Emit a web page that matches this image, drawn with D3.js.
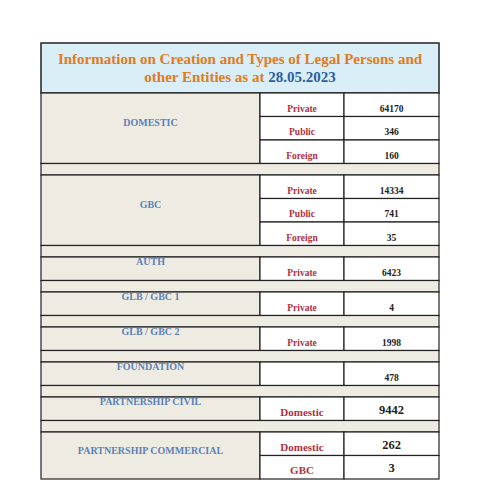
<!DOCTYPE html><html><head><meta charset="utf-8"><script src="https://cdn.jsdelivr.net/npm/d3@7"></script>
<style>body{margin:0;background:#fff}</style></head><body><svg id="c" width="480" height="480"></svg>
<script>
const groups = ["DOMESTIC","GBC","AUTH","GLB / GBC 1","GLB / GBC 2","FOUNDATION","PARTNERSHIP CIVIL","PARTNERSHIP COMMERCIAL"];
const subTypes = [["Private","Public","Foreign"],["Private","Public","Foreign"],["Private"],["Private"],["Private"],[""],["Domestic"],["Domestic","GBC"]];
const counts = [[64170,346,160],[14334,741,35],[6423],[4],[1998],[478],[9442],[262,3]];
const svg = d3.select("#c");
const font = "'Liberation Serif','Times New Roman',serif";
const c1 = 260, c2 = 344;
const subH = 23.5, gap = 11.5, tableTop = 93;
svg.append("rect").attr("x",41).attr("y",43).attr("width",398).attr("height",50).attr("fill","#daeef7").attr("stroke","#222").attr("stroke-width",1.5);
const t = svg.append("text").attr("font-family",font).attr("font-weight","bold").attr("font-size",15).attr("text-anchor","middle").attr("fill","#e07b20");
t.append("tspan").attr("x",240).attr("y",64).text("Information on Creation and Types of Legal Persons  and");
const t2=t.append("tspan").attr("x",240).attr("y",82);
t2.append("tspan").text("other Entities as at ");
t2.append("tspan").attr("fill","#2e5e9e").text("28.05.2023");
let y = tableTop;
groups.forEach((g,i)=>{
  const n = subTypes[i].length, h = n*subH;
  svg.append("rect").attr("x",41).attr("y",y).attr("width",c1-41).attr("height",h).attr("fill","#eeebe3").attr("stroke","#222").attr("stroke-width",1.2);
  svg.append("text").attr("x",(41+c1)/2).attr("y",y+h/2-(n>1?2:4)).attr("text-anchor","middle").attr("font-family",font).attr("font-weight","bold").attr("font-size",10).attr("fill","#5b82b5").text(g);
  subTypes[i].forEach((s,j)=>{
    const yy = y+j*subH;
    svg.append("rect").attr("x",c1).attr("y",yy).attr("width",c2-c1).attr("height",subH).attr("fill","#fff").attr("stroke","#222").attr("stroke-width",1.2);
    svg.append("rect").attr("x",c2).attr("y",yy).attr("width",439-c2).attr("height",subH).attr("fill","#fff").attr("stroke","#222").attr("stroke-width",1.2);
    const big = i>=6;
    svg.append("text").attr("x",(c1+c2)/2).attr("y",yy+subH-5).attr("text-anchor","middle").attr("font-family",font).attr("font-weight","bold").attr("font-size",big?11:9.5).attr("fill","#b03040").text(s);
    svg.append("text").attr("x",(c2+439)/2).attr("y",yy+subH-(big?7:5)).attr("text-anchor","middle").attr("font-family",font).attr("font-weight","bold").attr("font-size",big?12.5:9.5).attr("fill","#222").text(counts[i][j]);
  });
  y += h;
  if(i<groups.length-1){
    svg.append("rect").attr("x",41).attr("y",y).attr("width",398).attr("height",gap).attr("fill","#eeebe3").attr("stroke","#222").attr("stroke-width",1.2);
    y += gap;
  }
});
</script></body></html>
